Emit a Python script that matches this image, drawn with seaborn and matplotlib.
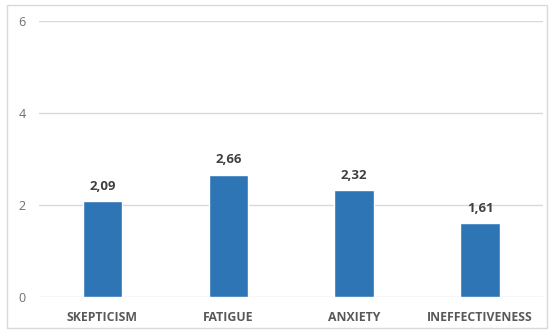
import pandas as pd
import matplotlib
matplotlib.use("Agg")
import matplotlib.pyplot as plt
import seaborn as sns
from matplotlib.patches import Rectangle

categories = ["SKEPTICISM", "FATIGUE", "ANXIETY", "INEFFECTIVENESS"]
scores = [2.09, 2.66, 2.32, 1.61]
yticks = [0, 2, 4, 6]

df = pd.DataFrame({"category": categories, "score": scores})

sns.set_style("white")
plt.rcParams["font.family"] = ["Open Sans", "DejaVu Sans"]

fig = plt.figure(figsize=(5.53, 3.32), dpi=100)
ax = fig.add_axes([0.0714, 0.1054, 0.9106, 0.8313])

sns.barplot(data=df, x="category", y="score", color="#2E75B6", saturation=1,
            width=0.314, ax=ax, zorder=3)

ax.set_ylim(0, 6)
ax.set_yticks(yticks)
ax.set_yticklabels([str(t) for t in yticks])
ax.set_xlim(-0.5, len(categories) - 0.5)
ax.yaxis.grid(True, color="#D9D9D9", linewidth=1, zorder=0)
for s in ax.spines.values():
    s.set_visible(False)
ax.tick_params(axis="y", length=0, pad=10, labelsize=9, labelcolor="#6E6E6E")
ax.tick_params(axis="x", length=0, pad=10, labelsize=8.8, labelcolor="#595959")
for lab in ax.get_xticklabels():
    lab.set_fontweight("bold")
ax.set_xlabel("")
ax.set_ylabel("")

for i, v in enumerate(scores):
    ax.annotate(f"{v:.2f}".replace(".", ","), (i, v), xytext=(0, 6),
                textcoords="offset points", ha="center", va="bottom",
                fontsize=9.5, fontweight="bold", color="#404040")

fig.patches.append(Rectangle((7 / 553, 4 / 332), 540 / 553, 323 / 332,
                             transform=fig.transFigure, fill=False,
                             edgecolor="#D9D9D9", linewidth=1))

fig.savefig("out.png", dpi=100)
plt.close(fig)
